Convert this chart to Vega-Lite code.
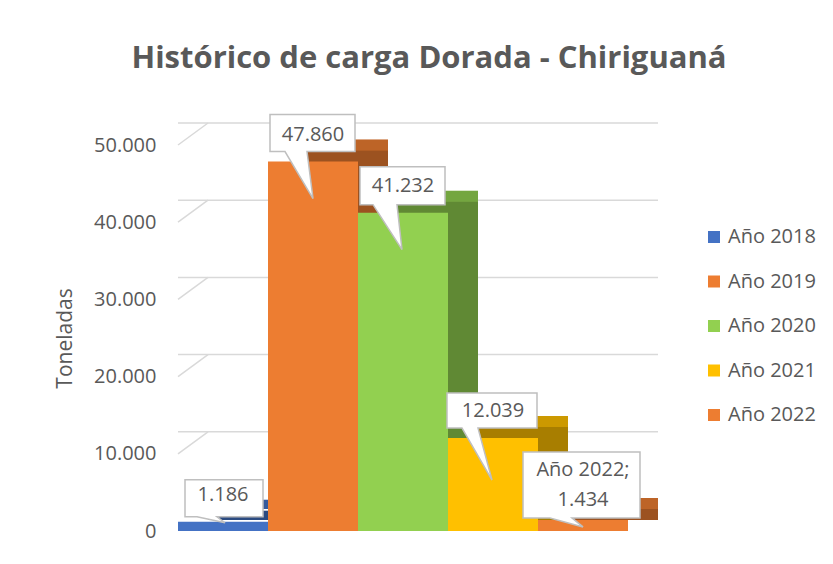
{
  "$schema": "https://vega.github.io/schema/vega-lite/v6.json",
  "width": 450,
  "height": 386,
  "autosize": {"type": "none"},
  "padding": {"left": 178, "top": 145, "right": 205, "bottom": 33},
  "background": "white",
  "config": {
    "locale": {"number": {"decimal": ",", "thousands": ".", "grouping": [3], "currency": ["$", ""]}},
    "view": {"stroke": null},
    "font": "Open Sans"
  },
  "title": {
    "text": "Histórico de carga Dorada - Chiriguaná",
    "font": "Open Sans",
    "fontSize": 31,
    "fontWeight": "bold",
    "color": "#595959",
    "anchor": "middle",
    "frame": "group",
    "dx": 26,
    "offset": 37
  },
  "datasets": {
    "carga": [
      {"serie": "Año 2018", "toneladas": 1186},
      {"serie": "Año 2019", "toneladas": 47860},
      {"serie": "Año 2020", "toneladas": 41232},
      {"serie": "Año 2021", "toneladas": 12039},
      {"serie": "Año 2022", "toneladas": 1434}
    ],
    "marcas": [
      {"v": 10000}, {"v": 20000}, {"v": 30000}, {"v": 40000}, {"v": 50000}
    ]
  },
  "resolve": {"scale": {"x": "independent"}},
  "layer": [
    {
      "data": {"name": "marcas"},
      "mark": {"type": "rule", "color": "#D9D9D9", "strokeWidth": 1.5, "xOffset": 30, "yOffset": -22},
      "encoding": {
        "y": {"field": "v", "type": "quantitative", "scale": {"domain": [0, 50000], "nice": false},
          "axis": {"values": [0, 10000, 20000, 30000, 40000, 50000], "format": ",.0f", "grid": false, "ticks": false, "domain": false,
            "labelFont": "Open Sans", "labelFontSize": 20, "labelColor": "#595959", "labelPadding": 22,
            "title": "Toneladas", "titleFont": "Open Sans", "titleFontSize": 21, "titleFontWeight": "normal", "titleColor": "#595959", "titlePadding": 18}}
      }
    },
    {
      "data": {"name": "marcas"},
      "mark": {"type": "rule", "color": "#D9D9D9", "strokeWidth": 1.5, "x2Offset": 30, "y2Offset": -22},
      "encoding": {
        "x": {"datum": 0, "type": "quantitative", "scale": {"domain": [0, 1]}, "axis": null},
        "x2": {"datum": 0},
        "y": {"field": "v", "type": "quantitative"},
        "y2": {"field": "v"}
      }
    },
    {
      "data": {"name": "carga"},
      "mark": {"type": "bar", "xOffset": 30, "yOffset": -22, "y2Offset": -22},
      "encoding": {
        "x": {"field": "serie", "type": "nominal", "sort": null, "scale": {"domain": ["Año 2018", "Año 2019", "Año 2020", "Año 2021", "Año 2022"], "paddingInner": 0, "paddingOuter": 0}, "axis": null},
        "y": {"field": "toneladas", "type": "quantitative"},
        "color": {"field": "serie", "type": "nominal"}
      }
    },
    {
      "data": {"name": "carga"},
      "mark": {"type": "bar", "color": "black", "opacity": 0.2, "xOffset": 30, "yOffset": -22, "y2Offset": -22},
      "encoding": {
        "x": {"field": "serie", "type": "nominal", "sort": null, "scale": {"domain": ["Año 2018", "Año 2019", "Año 2020", "Año 2021", "Año 2022"], "paddingInner": 0, "paddingOuter": 0}, "axis": null},
        "y": {"field": "toneladas", "type": "quantitative"}
      }
    },
    {
      "data": {"name": "carga"},
      "mark": {"type": "bar", "xOffset": 30, "yOffset": -11, "y2Offset": -11},
      "encoding": {
        "x": {"field": "serie", "type": "nominal", "sort": null, "scale": {"domain": ["Año 2018", "Año 2019", "Año 2020", "Año 2021", "Año 2022"], "paddingInner": 0, "paddingOuter": 0}, "axis": null},
        "y": {"field": "toneladas", "type": "quantitative"},
        "color": {"field": "serie", "type": "nominal"}
      }
    },
    {
      "data": {"name": "carga"},
      "mark": {"type": "bar", "color": "black", "opacity": 0.34, "xOffset": 30, "yOffset": -11, "y2Offset": -11},
      "encoding": {
        "x": {"field": "serie", "type": "nominal", "sort": null, "scale": {"domain": ["Año 2018", "Año 2019", "Año 2020", "Año 2021", "Año 2022"], "paddingInner": 0, "paddingOuter": 0}, "axis": null},
        "y": {"field": "toneladas", "type": "quantitative"}
      }
    },
    {
      "data": {"name": "carga"},
      "mark": {"type": "bar"},
      "encoding": {
        "x": {"field": "serie", "type": "nominal", "sort": null, "scale": {"domain": ["Año 2018", "Año 2019", "Año 2020", "Año 2021", "Año 2022"], "paddingInner": 0, "paddingOuter": 0}, "axis": null},
        "y": {"field": "toneladas", "type": "quantitative"},
        "color": {"field": "serie", "type": "nominal",
          "scale": {"domain": ["Año 2018", "Año 2019", "Año 2020", "Año 2021", "Año 2022"],
            "range": ["#4472C4", "#ED7D31", "#92D050", "#FFC000", "#ED7D31"]},
          "legend": {"title": null, "orient": "none", "legendX": 526, "legendY": 82,
            "symbolType": "square", "symbolSize": 144, "symbolStrokeWidth": 0,
            "labelFont": "Open Sans", "labelFontSize": 20, "labelColor": "#595959", "labelOffset": 4,
            "rowPadding": 24.5}}
      }
    },
    {
      "data": {"name": "carga"},
      "transform": [{"filter": "datum.serie == 'Año 2018'"}],
      "mark": {"type": "point", "filled": true, "fill": "white", "stroke": "#BFBFBF", "strokeWidth": 1.5, "opacity": 1, "size": 10000,
        "shape": "M-0.76,-0.84 L0.8,-0.84 L0.8,-0.1 L-0.12,-0.1 L0.04,0.02 L-0.52,-0.1 L-0.76,-0.1 Z"},
      "encoding": {
        "x": {"field": "serie", "type": "nominal", "sort": null, "scale": {"domain": ["Año 2018", "Año 2019", "Año 2020", "Año 2021", "Año 2022"], "paddingInner": 0, "paddingOuter": 0}, "axis": null},
        "y": {"field": "toneladas", "type": "quantitative"}
      }
    },
    {
      "data": {"name": "carga"},
      "transform": [{"filter": "datum.serie == 'Año 2019'"}],
      "mark": {"type": "point", "filled": true, "fill": "white", "stroke": "#BFBFBF", "strokeWidth": 1.5, "opacity": 1, "size": 10000,
        "shape": "M-0.86,-0.94 L0.84,-0.94 L0.84,-0.2 L-0.12,-0.2 L0,0.74 L-0.56,-0.2 L-0.86,-0.2 Z"},
      "encoding": {
        "x": {"field": "serie", "type": "nominal", "sort": null, "scale": {"domain": ["Año 2018", "Año 2019", "Año 2020", "Año 2021", "Año 2022"], "paddingInner": 0, "paddingOuter": 0}, "axis": null},
        "y": {"field": "toneladas", "type": "quantitative"}
      }
    },
    {
      "data": {"name": "carga"},
      "transform": [{"filter": "datum.serie == 'Año 2020'"}],
      "mark": {"type": "point", "filled": true, "fill": "white", "stroke": "#BFBFBF", "strokeWidth": 1.5, "opacity": 1, "size": 10000,
        "shape": "M-0.86,-0.92 L0.84,-0.92 L0.84,-0.16 L-0.12,-0.16 L-0.02,0.74 L-0.6,-0.16 L-0.86,-0.16 Z"},
      "encoding": {
        "x": {"field": "serie", "type": "nominal", "sort": null, "scale": {"domain": ["Año 2018", "Año 2019", "Año 2020", "Año 2021", "Año 2022"], "paddingInner": 0, "paddingOuter": 0}, "axis": null},
        "y": {"field": "toneladas", "type": "quantitative"}
      }
    },
    {
      "data": {"name": "carga"},
      "transform": [{"filter": "datum.serie == 'Año 2021'"}],
      "mark": {"type": "point", "filled": true, "fill": "white", "stroke": "#BFBFBF", "strokeWidth": 1.5, "opacity": 1, "size": 10000,
        "shape": "M-0.92,-0.9 L0.88,-0.9 L0.88,-0.2 L-0.3,-0.2 L-0.02,0.84 L-0.62,-0.2 L-0.92,-0.2 Z"},
      "encoding": {
        "x": {"field": "serie", "type": "nominal", "sort": null, "scale": {"domain": ["Año 2018", "Año 2019", "Año 2020", "Año 2021", "Año 2022"], "paddingInner": 0, "paddingOuter": 0}, "axis": null},
        "y": {"field": "toneladas", "type": "quantitative"}
      }
    },
    {
      "data": {"name": "carga"},
      "transform": [{"filter": "datum.serie == 'Año 2022'"}],
      "mark": {"type": "point", "filled": true, "fill": "white", "stroke": "#BFBFBF", "strokeWidth": 1.5, "opacity": 1, "size": 10000,
        "shape": "M-1.2,-1.36 L1.14,-1.36 L1.14,-0.04 L-0.22,-0.04 L0,0.14 L-0.66,-0.04 L-1.2,-0.04 Z"},
      "encoding": {
        "x": {"field": "serie", "type": "nominal", "sort": null, "scale": {"domain": ["Año 2018", "Año 2019", "Año 2020", "Año 2021", "Año 2022"], "paddingInner": 0, "paddingOuter": 0}, "axis": null},
        "y": {"field": "toneladas", "type": "quantitative"}
      }
    },
    {
      "data": {"name": "carga"},
      "transform": [{"filter": "datum.serie != 'Año 2022'"}],
      "mark": {"type": "text", "font": "Open Sans", "fontSize": 20, "fill": "#595959", "align": "center", "baseline": "middle", "yOffset": -27},
      "encoding": {
        "x": {"field": "serie", "type": "nominal", "sort": null, "scale": {"domain": ["Año 2018", "Año 2019", "Año 2020", "Año 2021", "Año 2022"], "paddingInner": 0, "paddingOuter": 0}, "axis": null},
        "y": {"field": "toneladas", "type": "quantitative"},
        "text": {"field": "toneladas", "type": "quantitative", "format": ",.0f"}
      }
    },
    {
      "data": {"name": "carga"},
      "transform": [
        {"filter": "datum.serie == 'Año 2022'"},
        {"calculate": "[datum.serie + ';', format(datum.toneladas, ',.0f')]", "as": "etiqueta"}
      ],
      "mark": {"type": "text", "font": "Open Sans", "fontSize": 20, "fill": "#595959", "align": "center", "baseline": "middle", "yOffset": -50, "lineHeight": 30},
      "encoding": {
        "x": {"field": "serie", "type": "nominal", "sort": null, "scale": {"domain": ["Año 2018", "Año 2019", "Año 2020", "Año 2021", "Año 2022"], "paddingInner": 0, "paddingOuter": 0}, "axis": null},
        "y": {"field": "toneladas", "type": "quantitative"},
        "text": {"field": "etiqueta"}
      }
    }
  ]
}
